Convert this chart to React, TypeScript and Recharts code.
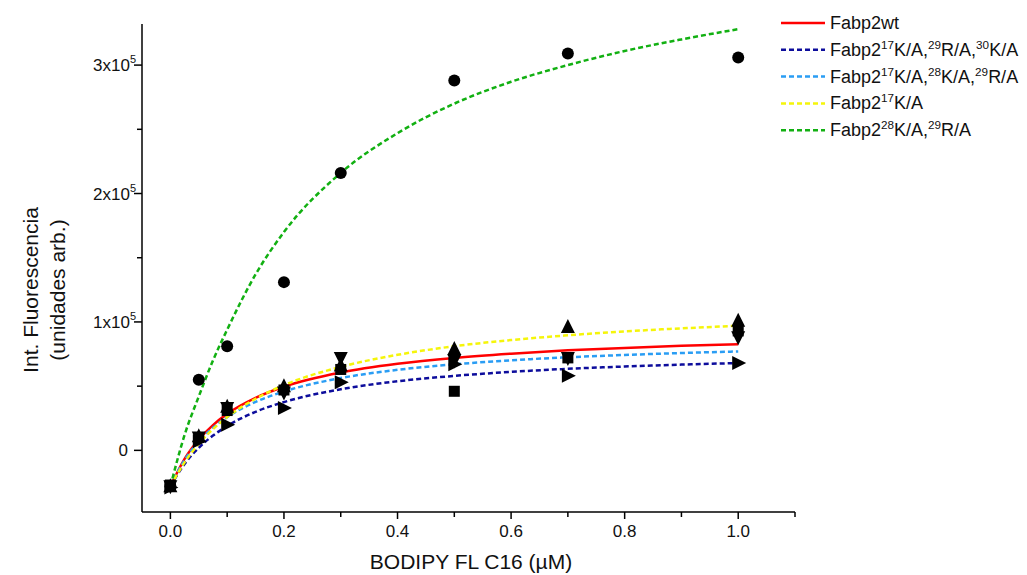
import React from 'react';
import { ComposedChart, Line, Scatter, XAxis, YAxis } from 'recharts';

// measured points (BODIPY FL C16 concentration, µM)
const conc = [0, 0.05, 0.1, 0.2, 0.3, 0.5, 0.7, 1.0];
const wtPts = [-27000, 10000, 31000, 47000, 63000, 46000, 72000, 93000];
const tripleAPts = [-29000, 7000, 20000, 33000, 53000, 67000, 58000, 68000];
const tripleBPts = [-28000, 10000, 33000, 45000, 72000, 70000, 72000, 88000];
const k17Pts = [-28000, 11000, 34000, 50000, 66000, 79000, 96000, 101000];
const k28r29Pts = [-28000, 55000, 81000, 131000, 216000, 288000, 309000, 306000];

// fitted binding curves
const fitX = [0, 0.025, 0.05, 0.075, 0.1, 0.15, 0.2, 0.3, 0.4, 0.5, 0.6, 0.7, 0.8, 0.9, 1.0];
const wtFit = [-28000, -6600, 8500, 19700, 28400, 40900, 49500, 60600, 67400, 72000, 75300, 77900, 79800, 81400, 82700];
const tripleAFit = [-28000, -10600, 2000, 11500, 19000, 30000, 37600, 47600, 53800, 58000, 61100, 63500, 65300, 66800, 68000];
const tripleBFit = [-28000, -7500, 6900, 17600, 25900, 37700, 45800, 56300, 62700, 67000, 70100, 72500, 74300, 75800, 77000];
const k17Fit = [-28000, -9400, 5000, 16500, 25900, 40200, 50800, 65000, 74400, 81100, 85900, 89600, 92600, 95000, 97000];
const k28r29Fit = [-28000, 12000, 42000, 70000, 94000, 137000, 170000, 216000, 247000, 270000, 287000, 300000, 311000, 320000, 328000];

const xTicks = [0, 0.1, 0.2, 0.3, 0.4, 0.5, 0.6, 0.7, 0.8, 0.9, 1.0, 1.1];
const yTicks = [0, 50000, 100000, 150000, 200000, 250000, 300000];

const FONT = '"Liberation Sans", Arial, sans-serif';

const toXY = (xs: number[], ys: number[]) => xs.map((x, i) => ({ x, y: ys[i] }));

type Seg = { t: string; sup?: boolean };

const series: { name: Seg[]; color: string; dash?: string; fit: number[]; pts: number[]; marker: string }[] = [
  { name: [{ t: 'Fabp2wt' }], color: '#ff0000', fit: wtFit, pts: wtPts, marker: 'square' },
  {
    name: [{ t: 'Fabp2' }, { t: '17', sup: true }, { t: 'K/A,' }, { t: '29', sup: true }, { t: 'R/A,' }, { t: '30', sup: true }, { t: 'K/A' }],
    color: '#0d0d9c', dash: '5 3', fit: tripleAFit, pts: tripleAPts, marker: 'right',
  },
  {
    name: [{ t: 'Fabp2' }, { t: '17', sup: true }, { t: 'K/A,' }, { t: '28', sup: true }, { t: 'K/A,' }, { t: '29', sup: true }, { t: 'R/A' }],
    color: '#2a9df4', dash: '5 3', fit: tripleBFit, pts: tripleBPts, marker: 'down',
  },
  { name: [{ t: 'Fabp2' }, { t: '17', sup: true }, { t: 'K/A' }], color: '#f5f50a', dash: '5 3', fit: k17Fit, pts: k17Pts, marker: 'up' },
  {
    name: [{ t: 'Fabp2' }, { t: '28', sup: true }, { t: 'K/A,' }, { t: '29', sup: true }, { t: 'R/A' }],
    color: '#12b012', dash: '5 3', fit: k28r29Fit, pts: k28r29Pts, marker: 'circle',
  },
];

const RichText = ({ segs, x, y, size }: { segs: Seg[]; x: number; y: number; size: number }) => {
  let shift = 0;
  return (
    <text x={x} y={y} fontFamily={FONT} fontSize={size} fill="#111">
      {segs.map((s, i) => {
        const dy = s.sup ? -7 - shift : -shift;
        shift = s.sup ? -7 : 0;
        return (
          <tspan key={i} dy={dy} fontSize={s.sup ? size * 0.65 : size}>
            {s.t}
          </tspan>
        );
      })}
    </text>
  );
};

const Marker = ({ cx, cy, kind }: { cx?: number; cy?: number; kind: string }) => {
  if (cx == null || cy == null) return null;
  const r = 7;
  if (kind === 'circle') return <circle cx={cx} cy={cy} r={6} fill="#000" />;
  if (kind === 'square') return <rect x={cx - 5.5} y={cy - 5.5} width={11} height={11} fill="#000" />;
  let pts = '';
  if (kind === 'up') pts = `${cx},${cy - r - 1} ${cx - r},${cy + r - 1} ${cx + r},${cy + r - 1}`;
  if (kind === 'down') pts = `${cx},${cy + r + 1} ${cx - r},${cy - r + 1} ${cx + r},${cy - r + 1}`;
  if (kind === 'right') pts = `${cx + r + 1},${cy} ${cx - r + 1},${cy - r} ${cx - r + 1},${cy + r}`;
  return <polygon points={pts} fill="#000" />;
};

const YTick = (props: any) => {
  const { x, y, payload } = props;
  const v = payload.value as number;
  const major = v % 100000 === 0;
  return (
    <g>
      <line x1={x - (major ? 8 : 5)} x2={x} y1={y} y2={y} stroke="#000" strokeWidth={1.5} />
      {major &&
        (v === 0 ? (
          <text x={x - 14} y={y + 6} textAnchor="end" fontFamily={FONT} fontSize={17} fill="#111">0</text>
        ) : (
          <text x={x - 6} y={y + 6} textAnchor="end" fontFamily={FONT} fontSize={17} fill="#111">
            {`${v / 100000}x10`}
            <tspan dy={-8} fontSize={11}>5</tspan>
          </text>
        ))}
    </g>
  );
};

const XTick = (props: any) => {
  const { x, y, payload } = props;
  const v = payload.value as number;
  const n = Math.round(v * 10);
  const major = n % 2 === 0 && n <= 10;
  return (
    <g>
      <line x1={x} x2={x} y1={y} y2={y + (major ? 7 : 5)} stroke="#000" strokeWidth={1.5} />
      {major && (
        <text x={x} y={y + 25} textAnchor="middle" fontFamily={FONT} fontSize={17} fill="#111">
          {(n / 10).toFixed(1)}
        </text>
      )}
    </g>
  );
};

// legend block in the upper right corner, lines only
const LegendBlock = ({ left, top }: { left: number; top: number }) => (
  <g>
    {series.map((s, i) => {
      const ry = top + i * 26.8;
      return (
        <g key={i}>
          <line x1={left} x2={left + 44} y1={ry} y2={ry} stroke={s.color} strokeWidth={2.5} strokeDasharray={s.dash} />
          <RichText segs={s.name} x={left + 49} y={ry + 6} size={18} />
        </g>
      );
    })}
  </g>
);

export default function App() {
  return (
    <ComposedChart
      width={1019}
      height={567}
      margin={{ top: 16, right: 232, bottom: 33, left: 0 }}
      style={{ fontFamily: FONT }}
    >
      <XAxis
        type="number"
        dataKey="x"
        domain={[-0.05, 1.1]}
        ticks={xTicks}
        interval={0}
        tickSize={0}
        tickMargin={0}
        tickLine={false}
        tick={<XTick />}
        height={30}
        axisLine={{ stroke: '#000', strokeWidth: 1.5 }}
        allowDataOverflow
      />
      <YAxis
        type="number"
        dataKey="y"
        domain={[-48000, 332000]}
        ticks={yTicks}
        interval={0}
        tickSize={0}
        tickMargin={0}
        tickLine={false}
        tick={<YTick />}
        width={134}
        axisLine={{ stroke: '#000', strokeWidth: 1.5 }}
        allowDataOverflow
      />
      {series.map((s, i) => (
        <Line
          key={`fit-${i}`}
          data={toXY(fitX, s.fit)}
          dataKey="y"
          type="monotone"
          stroke={s.color}
          strokeWidth={2.5}
          strokeDasharray={s.dash}
          dot={false}
          activeDot={false}
          isAnimationActive={false}
          legendType="none"
        />
      ))}
      {series.map((s, i) => (
        <Scatter
          key={`pts-${i}`}
          data={toXY(conc, s.pts)}
          dataKey="y"
          fill="#000"
          shape={(p: any) => <Marker cx={p.cx} cy={p.cy} kind={s.marker} />}
          isAnimationActive={false}
          legendType="none"
        />
      ))}
      <LegendBlock left={773} top={15} />
      <text x={22} y={282} transform="rotate(-90, 22, 282)" textAnchor="middle" dominantBaseline="central" fontFamily={FONT} fontSize={21} fill="#111">
        Int. Fluorescencia
      </text>
      <text x={49} y={282} transform="rotate(-90, 49, 282)" textAnchor="middle" dominantBaseline="central" fontFamily={FONT} fontSize={21} fill="#111">
        (unidades arb.)
      </text>
      <text x={463} y={561} textAnchor="middle" fontFamily={FONT} fontSize={21} fill="#111">
        BODIPY FL C16 (µM)
      </text>
    </ComposedChart>
  );
}
